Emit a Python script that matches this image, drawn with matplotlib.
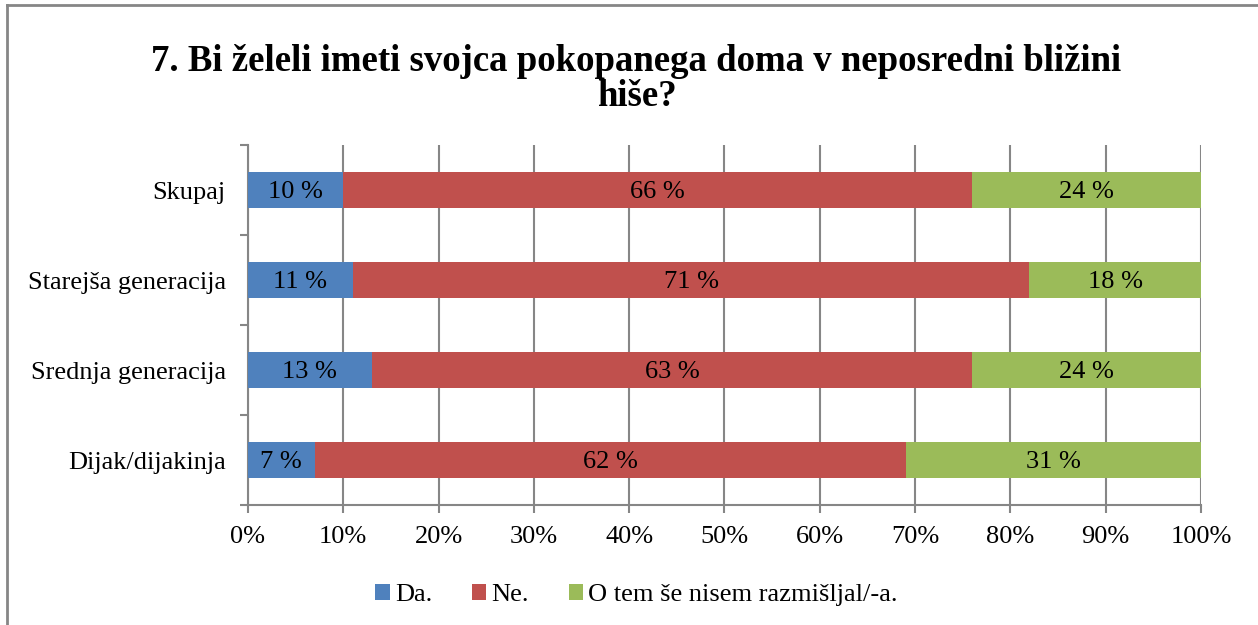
import matplotlib.pyplot as plt
import numpy as np

plt.rcParams['font.family'] = ['Liberation Serif', 'DejaVu Serif']

kategorije = ['Dijak/dijakinja', 'Srednja generacija', 'Starejša generacija', 'Skupaj']
da = [7, 13, 11, 10]
ne = [62, 63, 71, 66]
ne_vem = [31, 24, 18, 24]
oznake = ['Da.', 'Ne.', 'O tem še nisem razmišljal/-a.']
barve = ['#4F81BD', '#C0504D', '#9BBB59']

fig = plt.figure(figsize=(12.58, 6.25), dpi=100)
ax = fig.add_axes([0.1971, 0.192, 0.7576, 0.576])

y = np.arange(len(kategorije))
levo = np.zeros(len(kategorije))
for vrednosti, ime, barva in zip([da, ne, ne_vem], oznake, barve):
    v = np.array(vrednosti)
    ax.barh(y, v, left=levo, height=0.4, color=barva, label=ime, zorder=3)
    for yi, l, w in zip(y, levo, v):
        ax.text(l + w / 2, yi, f'{w} %', ha='center', va='center_baseline', fontsize=19, zorder=4)
    levo += v

ax.set_xlim(0, 100)
ax.set_ylim(-0.5, 3.5)
ax.set_xticks(np.arange(0, 101, 10))
ax.set_xticklabels([f'{t}%' for t in range(0, 101, 10)], fontsize=19)
ax.set_yticks(y)
ax.set_yticklabels(kategorije, fontsize=19)
ax.set_yticks(np.arange(-0.5, 3.6, 1), minor=True)
ax.tick_params(axis='y', which='major', length=0, pad=16)
ax.tick_params(axis='y', which='minor', length=6, color='#868686', width=1.5)
ax.tick_params(axis='x', length=6, color='#868686', width=1.5, pad=9)
ax.grid(axis='x', color='#868686', linewidth=1.5, zorder=0)
for s in ['top', 'right']:
    ax.spines[s].set_visible(False)
for s in ['left', 'bottom']:
    ax.spines[s].set_color('#868686')
    ax.spines[s].set_linewidth(1.5)

fig.text(0.506, 0.873, '7. Bi želeli imeti svojca pokopanega doma v neposredni bližini\nhiše?',
         ha='center', va='center', fontsize=26.5, fontweight='bold', linespacing=1.0)

fig.legend(loc='center', bbox_to_anchor=(0.506, 0.048), ncol=3, fontsize=19, frameon=False,
           handlelength=0.55, handleheight=0.55, handletextpad=0.2, columnspacing=1.5)

fig.add_artist(plt.Line2D([0.0056, 0.0056], [0, 0.992], color='#868686', linewidth=2, transform=fig.transFigure))
fig.add_artist(plt.Line2D([0.0056, 1], [0.992, 0.992], color='#868686', linewidth=2, transform=fig.transFigure))

fig.savefig('out.png', dpi=100)
